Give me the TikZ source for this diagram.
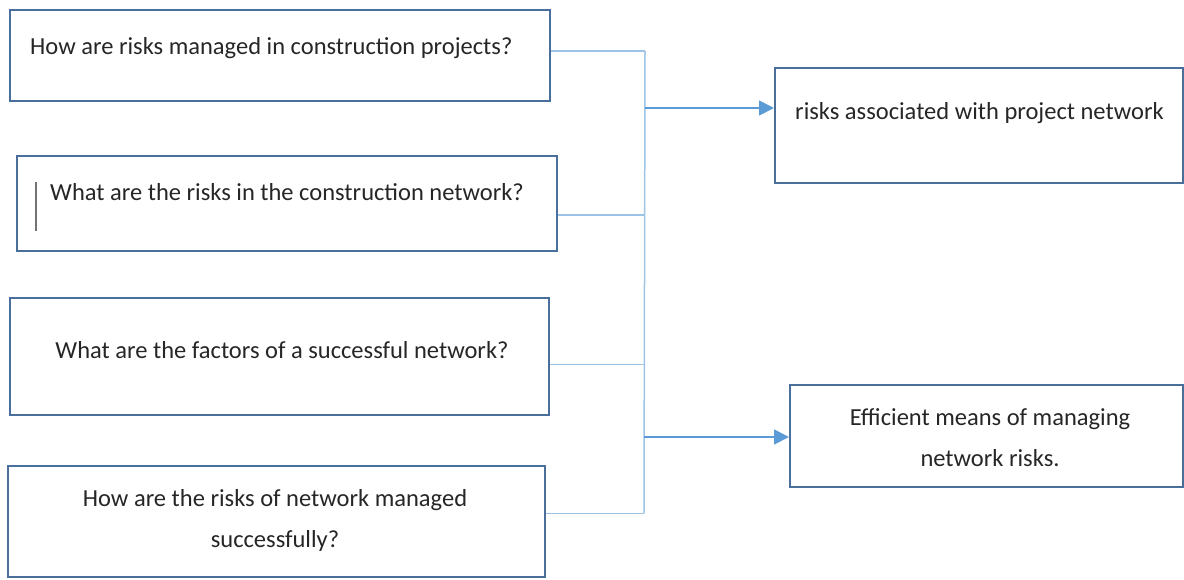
\documentclass[tikz,border=0pt]{standalone}
\usepackage{fontspec}
\setmainfont{Carlito}
\usetikzlibrary{arrows.meta}
\definecolor{boxedge}{HTML}{4A6F9C}
\definecolor{linkblue}{HTML}{9DC3E6}
\definecolor{arrowblue}{HTML}{5B9BD5}
\tikzset{
  qbox/.style={draw=boxedge, line width=2pt, rectangle, inner sep=0pt},
  qtext/.style={font=\fontsize{24.5}{41}\selectfont, text=black!85, align=center, inner sep=0pt},
  link/.style={draw=linkblue, line width=1.5pt},
  feed/.style={draw=arrowblue, line width=1.7pt, -{Triangle[length=15pt,width=15pt]}}
}

\begin{document}
\begin{tikzpicture}[x=1pt,y=-1pt]
  \useasboundingbox (0,0) rectangle (1184,579);
  % question boxes on the left
  \node[qbox, minimum width=540pt, minimum height=91pt]  (q1) at (280,55.5) {};
  \node[qbox, minimum width=540pt, minimum height=95pt]  (q2) at (287,203.5) {};
  \node[qbox, minimum width=539pt, minimum height=117pt] (q3) at (279.5,356.5) {};
  \node[qbox, minimum width=537pt, minimum height=111pt] (q4) at (276.5,521.5) {};
  \node[qtext, anchor=west] (t1) at (30,48) {How are risks managed in construction projects?};
  \node[qtext, anchor=west] (t2) at (50,192) {What are the risks in the construction network?};
  \node[qtext] (t3) at (282,350) {What are the factors of a successful network?};
  \node[qtext] (t4) at (275,520) {How are the risks of network managed\\successfully?};
  \draw[black!55, line width=1.2pt] (36,182) -- (36,231); % caret
  % outcome boxes on the right
  \node[qbox, minimum width=408pt, minimum height=115pt] (r1) at (979,125) {};
  \node[qbox, minimum width=393pt, minimum height=102pt] (r2) at (986.5,436) {};
  \node[qtext, anchor=west] (u1) at (795,113) {risks associated with project network};
  \node[qtext] (u2) at (990,438) {Efficient means of managing\\network risks.};
  % bus joining the questions
  \coordinate (bustop) at (645,51);
  \coordinate (busbot) at (644,513);
  \coordinate (j1) at (645,108);
  \coordinate (j2) at (644,437);
  \draw[link] (bustop) -- (busbot);
  \draw[link] ([yshift=4.5pt]q1.east) -- ([yshift=4.5pt]q1.east -| bustop);
  \draw[link] ([yshift=-11.5pt]q2.east) -- ([yshift=-11.5pt]q2.east -| bustop);
  \draw[link] ([yshift=-8pt]q3.east) -- ([yshift=-8pt]q3.east -| bustop);
  \draw[link] ([yshift=8pt]q4.east) -- ([yshift=8pt]q4.east -| busbot);
  % arrows to the outcomes
  \draw[feed] (j1) -- (j1 -| r1.west);
  \draw[feed] (j2) -- (j2 -| r2.west);
\end{tikzpicture}
\end{document}
